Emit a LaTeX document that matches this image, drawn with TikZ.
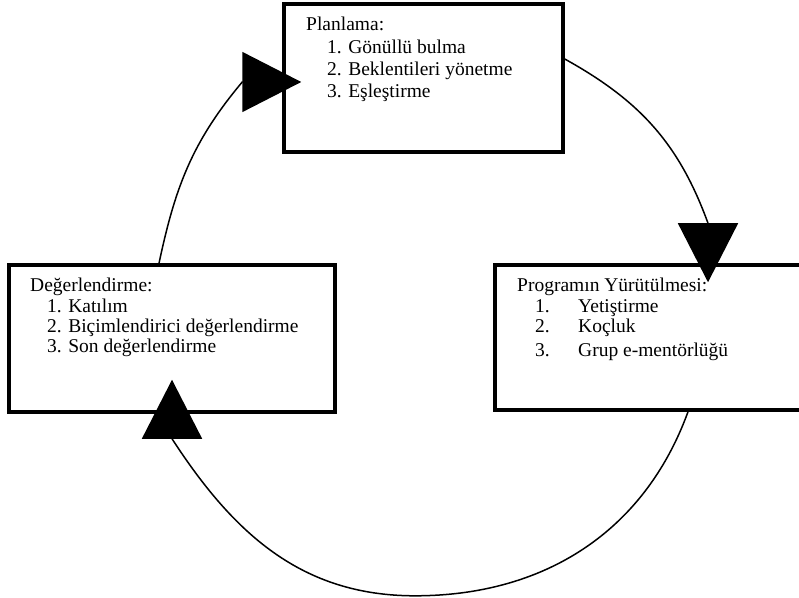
\documentclass[tikz,border=0pt]{standalone}
\usepackage{fontspec}
\setmainfont{Liberation Serif}
\usetikzlibrary{arrows.meta}

\begin{document}
\begin{tikzpicture}[x=1pt,y=1pt]

      \path[use as bounding box,clip] (0,0) rectangle (799,597);

      \begin{scope}[every node/.style={rectangle,draw,line width=3.5pt}]
        \node[minimum width=279pt,minimum height=148pt] (plan)  at (423.5,519) {};
        \node[minimum width=326pt,minimum height=147pt] (deger) at (172,258.5) {};
        \node[minimum width=340pt,minimum height=145pt] (prog)  at (665,259.5) {};
      \end{scope}

      \begin{scope}[every node/.style={anchor=base west,inner sep=0pt}]
        \node[font=\fontsize{19.5}{22}\selectfont] (plantxt) at (306,566)
          {\begin{tabular}[t]{@{}l@{}}
            Planlama:\\[1pt]
            \hspace*{21pt}1. Gönüllü bulma\\
            \hspace*{21pt}2. Beklentileri yönetme\\
            \hspace*{21pt}3. Eşleştirme
          \end{tabular}};
        \node[font=\fontsize{19.5}{20.3}\selectfont] (degertxt) at (30,305)
          {\begin{tabular}[t]{@{}l@{}}
            Değerlendirme:\\
            \hspace*{17pt}1. Katılım\\
            \hspace*{17pt}2. Biçimlendirici değerlendirme\\
            \hspace*{17pt}3. Son değerlendirme
          \end{tabular}};
        \node[font=\fontsize{19.5}{20.3}\selectfont] (progtxt) at (517,305)
          {\begin{tabular}[t]{@{}p{61pt}@{}l@{}}
            \multicolumn{2}{@{}l@{}}{Programın Yürütülmesi:}\\
            \hspace*{18pt}1. & Yetiştirme\\
            \hspace*{18pt}2. & Koçluk\\[4pt]
            \hspace*{18pt}3. & Grup e-mentörlüğü
          \end{tabular}};
      \end{scope}

      % arrow tips and the bottom of the loop
      \coordinate (plantip)  at ([shift={(19pt,-4pt)}]plan.west);
      \coordinate (progtip)  at ([shift={(43pt,-19pt)}]prog.north);
      \coordinate (degertip) at ([yshift=34pt]deger.south);
      \coordinate (loopbot)  at (415,1.2);

      \begin{scope}[every path/.style={line width=1.5pt},
                    tip/.style={-{Triangle[length=59pt,width=60pt]}}]
        \draw[tip] ([xshift=-13pt]deger.north) to[out=78,in=230] ([xshift=-59pt]plantip) -- (plantip);
        \draw[tip] ([yshift=19pt]plan.east) to[out=-29,in=110] ([yshift=59pt]progtip) -- (progtip);
        \draw[tip] ([xshift=23pt]prog.south) to[out=-110,in=0] (loopbot)
                   to[out=180,in=-57] ([yshift=-59pt]degertip) -- (degertip);
      \end{scope}

    \end{tikzpicture}
\end{document}
